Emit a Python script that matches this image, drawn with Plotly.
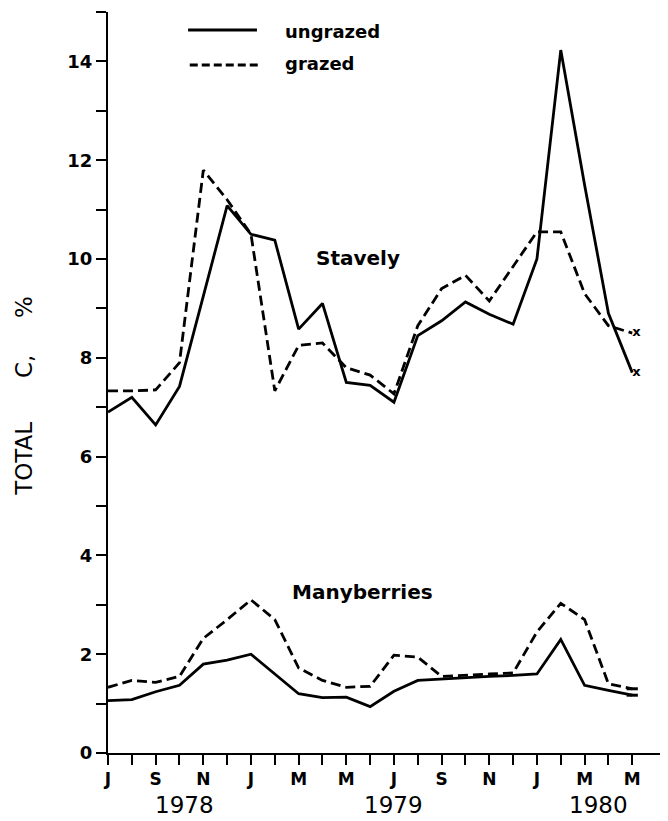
import plotly.graph_objects as go

# ---- data ----
months = ["Jul 1978", "Aug 1978", "Sep 1978", "Oct 1978", "Nov 1978", "Dec 1978",
          "Jan 1979", "Feb 1979", "Mar 1979", "Apr 1979", "May 1979", "Jun 1979",
          "Jul 1979", "Aug 1979", "Sep 1979", "Oct 1979", "Nov 1979", "Dec 1979",
          "Jan 1980", "Feb 1980", "Mar 1980", "Apr 1980", "May 1980"]
month_ticks = ["J", "", "S", "", "N", "", "J", "", "M", "", "M", "",
               "J", "", "S", "", "N", "", "J", "", "M", "", "M"]
year_labels = ["1978", "1979", "1980"]
year_label_pos = [3.2, 12.0, 20.6]

stavely_ungrazed = [6.9, 7.2, 6.64, 7.42, 9.25, 11.08, 10.5, 10.38, 8.58, 9.1, 7.5, 7.44,
                    7.1, 8.45, 8.75, 9.13, 8.88, 8.68, 10.0, 14.23, 11.5, 8.9, 7.7]
stavely_grazed = [7.33, 7.33, 7.35, 7.9, 11.8, 11.2, 10.5, 7.33, 8.25, 8.3, 7.8, 7.65,
                  7.27, 8.65, 9.4, 9.67, 9.15, 9.85, 10.55, 10.55, 9.3, 8.65, 8.5]
many_ungrazed = [1.06, 1.08, 1.24, 1.37, 1.8, 1.88, 2.0, 1.6, 1.2, 1.12, 1.13, 0.94,
                 1.25, 1.47, 1.5, 1.53, 1.55, 1.57, 1.6, 2.3, 1.37, 1.27, 1.17]
many_grazed = [1.33, 1.47, 1.43, 1.55, 2.32, 2.7, 3.1, 2.7, 1.72, 1.47, 1.33, 1.35,
               1.98, 1.94, 1.55, 1.58, 1.6, 1.62, 2.45, 3.03, 2.7, 1.4, 1.3]

y_tick_vals = list(range(0, 16))
y_tick_text = ["0", "", "2", "", "4", "", "6", "", "8", "", "10", "", "12", "", "14", ""]

x = list(range(len(months)))
jan_idx = [i for i, m in enumerate(months) if m.startswith("Jan")]

FONT = "DejaVu Sans"
DASH = "10px,5px"
LW = 2.8
NB = "\u00a0"

fig = go.Figure()

def add_line(vals, dash, name):
    fig.add_trace(go.Scatter(
        x=x, y=vals, mode="lines", name=name, hovertext=months,
        line=dict(color="black", width=LW, dash=dash), showlegend=False))

add_line(stavely_ungrazed, "solid", "Stavely ungrazed")
add_line(stavely_grazed, DASH, "Stavely grazed")
add_line(many_ungrazed, "solid", "Manyberries ungrazed")
add_line(many_grazed, DASH, "Manyberries grazed")

# end-of-series markers
fig.add_trace(go.Scatter(
    x=[x[-1], x[-1]], y=[stavely_ungrazed[-1], stavely_grazed[-1]],
    mode="text", text=["<b>x</b>", "<b>x</b>"], textposition="middle right",
    textfont=dict(family=FONT, size=13, color="black"), showlegend=False))
fig.add_trace(go.Scatter(
    x=[x[-1], x[-1]], y=[many_ungrazed[-1], many_grazed[-1]],
    mode="markers", marker=dict(symbol="line-ew", size=8,
                                line=dict(width=3, color="black")),
    showlegend=False))

# legend (drawn manually to match the original layout)
fig.add_shape(type="line", xref="paper", yref="paper", x0=0.143, x1=0.266,
              y0=0.9757, y1=0.9757, line=dict(color="black", width=LW))
fig.add_shape(type="line", xref="paper", yref="paper", x0=0.146, x1=0.268,
              y0=0.9285, y1=0.9285, line=dict(color="black", width=LW, dash="8px,4px"))
fig.add_annotation(text="<b>ungrazed</b>", xref="paper", yref="paper", x=0.3125, y=0.9735,
                   xanchor="left", yanchor="middle", showarrow=False,
                   font=dict(family=FONT, size=18, color="black"))
fig.add_annotation(text="<b>grazed</b>", xref="paper", yref="paper", x=0.3125, y=0.931,
                   xanchor="left", yanchor="middle", showarrow=False,
                   font=dict(family=FONT, size=18, color="black"))

# site labels
fig.add_annotation(text="<b>Stavely</b>", x=10.5, y=10.02, showarrow=False,
                   font=dict(family=FONT, size=20, color="black"))
fig.add_annotation(text="<b>Manyberries</b>", x=10.7, y=3.26, showarrow=False,
                   font=dict(family=FONT, size=20, color="black"))

# year labels
for yl, xp in zip(year_labels, year_label_pos):
    fig.add_annotation(text=yl, x=xp, xref="x", yref="paper", y=0, yshift=-52,
                       xanchor="center", yanchor="middle", showarrow=False,
                       font=dict(family=FONT, size=23, color="black"))

# y-axis title
fig.add_annotation(text="TOTAL" + NB * 6 + "C," + NB * 5 + "%", xref="paper", yref="paper",
                   x=0, xshift=-84, y=0.482, textangle=-90, showarrow=False,
                   xanchor="center", yanchor="middle",
                   font=dict(family=FONT, size=23, color="black"))

# page body has an 8px margin; size the figure so the picture lines up
fig.update_layout(
    width=660, height=813,
    margin=dict(l=100, r=0, t=4, b=68),
    paper_bgcolor="white", plot_bgcolor="white",
    font=dict(family=FONT, color="black"),
    xaxis=dict(range=[0, 23.5], tickmode="array", tickvals=x,
               ticktext=[f"<b>{t}</b>" if t else "" for t in month_ticks],
               ticks="outside", ticklen=10, tickwidth=2, tickcolor="black",
               showline=True, linecolor="black", linewidth=2, showgrid=False,
               zeroline=False, tickfont=dict(family=FONT, size=17, color="black")),
    xaxis2=dict(range=[0, 23.5], overlaying="x", anchor="y", side="bottom",
                tickmode="array", tickvals=jan_idx, ticks="inside", ticklen=13,
                tickwidth=2, tickcolor="black", showticklabels=False,
                showline=False, showgrid=False, zeroline=False),
    yaxis=dict(range=[0, 15], tickmode="array", tickvals=y_tick_vals,
               ticktext=[f"<b>{t}</b>" if t else "" for t in y_tick_text],
               ticks="outside", ticklen=10, tickwidth=2, tickcolor="black",
               showline=True, linecolor="black", linewidth=2, showgrid=False,
               zeroline=False, tickfont=dict(family=FONT, size=18, color="black")),
)

fig.write_html("out.html")
